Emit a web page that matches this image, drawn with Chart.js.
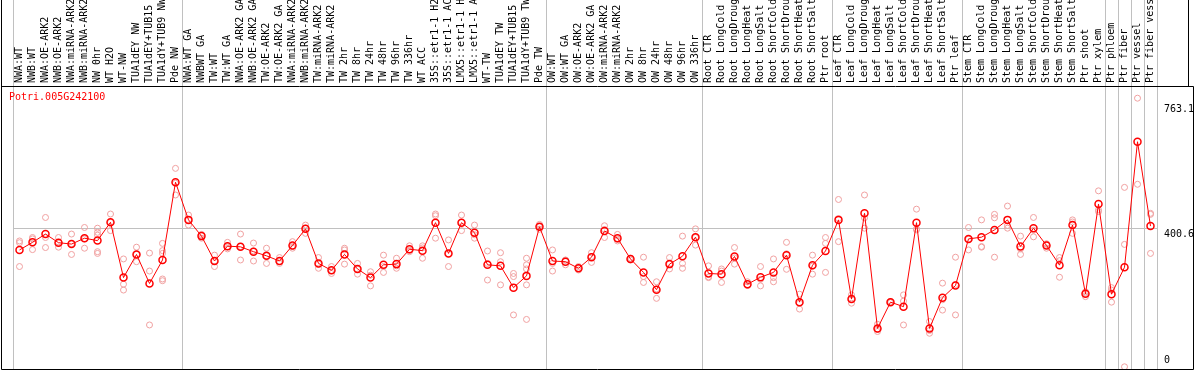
<!DOCTYPE html>
<html>
<head>
<meta charset="utf-8">
<script src="https://cdn.jsdelivr.net/npm/chart.js@4.4.1/dist/chart.umd.min.js"></script>
<style>
  html, body { margin: 0; padding: 0; background: #fff; }
  #wrap { width: 1194px; height: 370px; }
</style>
</head>
<body>
<div id="wrap"><canvas id="chart"></canvas></div>
<script>
const geneId = 'Potri.005G242100';

const categories = [
    'NWA:WT', 'NWB:WT', 'NWA:OE-ARK2', 'NWB:OE-ARK2', 'NWA:miRNA-ARK2', 'NWB:miRNA-ARK2',
    'NW 0hr', 'WT H2O', 'WT-NW', 'TUA1dEY NW', 'TUA1dEY+TUB15 NW', 'TUA1dY+TUB9 NW', 'Pde NW',
    'NWA:WT GA', 'NWBWT GA', 'TW:WT', 'TW:WT GA', 'NWA:OE-ARK2 GA', 'NWB:OE-ARK2 GA',
    'TW:OE-ARK2', 'TW:OE-ARK2 GA', 'NWA:miRNA-ARK2 GA', 'NWB:miRNA-ARK2 GA', 'TW:miRNA-ARK2',
    'TW:miRNA-ARK2 GA', 'TW 2hr', 'TW 8hr', 'TW 24hr', 'TW 48hr', 'TW 96hr', 'TW 336hr',
    'WT ACC', '35S::etr1-1 H2O', '35S::etr1-1 ACC', 'LMX5::etr1-1 H2O', 'LMX5::etr1-1 ACC',
    'WT-TW', 'TUA1dEY TW', 'TUA1dEY+TUB15 TW', 'TUA1dY+TUB9 TW', 'Pde TW',
    'OW:WT', 'OW:WT GA', 'OW:OE-ARK2', 'OW:OE-ARK2 GA', 'OW:miRNA-ARK2', 'OW:miRNA-ARK2 GA',
    'OW 2hr', 'OW 8hr', 'OW 24hr', 'OW 48hr', 'OW 96hr', 'OW 336hr',
    'Root CTR', 'Root LongCold', 'Root LongDrought', 'Root LongHeat', 'Root LongSalt',
    'Root ShortCold', 'Root ShortDrought', 'Root ShortHeat', 'Root ShortSalt', 'Ptr root',
    'Leaf CTR', 'Leaf LongCold', 'Leaf LongDrought', 'Leaf LongHeat', 'Leaf LongSalt',
    'Leaf ShortCold', 'Leaf ShortDrought', 'Leaf ShortHeat', 'Leaf ShortSalt', 'Ptr leaf',
    'Stem CTR', 'Stem LongCold', 'Stem LongDrought', 'Stem LongHeat', 'Stem LongSalt',
    'Stem ShortCold', 'Stem ShortDrought', 'Stem ShortHeat', 'Stem ShortSalt',
    'Ptr shoot', 'Ptr xylem', 'Ptr phloem', 'Ptr fiber', 'Ptr vessel', 'Ptr fiber vessel'
];

// mean expression per sample (red line)
const meanValues = [
    338, 360, 384, 359, 355, 372, 365, 418, 258, 325, 241, 309, 534,
    425, 378, 306, 349, 347, 333, 321, 306, 351, 399, 299, 279, 325, 283, 258, 295, 297, 340,
    336, 417, 328, 417, 388, 295, 292, 229, 263, 405,
    306, 304, 285, 317, 393, 372, 312, 273, 223, 297, 320, 375,
    270, 268, 319, 239, 259, 273, 323, 187, 294, 335,
    425, 196, 444, 111, 187, 174, 417, 111, 200, 235,
    370, 375, 396, 425, 348, 401, 351, 294, 410,
    211, 471, 210, 288, 651, 407
];

// single replicates per sample (pale circles)
const replicateValues = [
    [364, 359, 290], [374, 370, 339], [432, 374, 345], [374, 360, 346], [384, 325, 356],
    [403, 343, 370], [401, 389, 381, 333, 328], [442, 394, 418], [312, 239, 222],
    [346, 304, 325], [329, 277, 121], [357, 336, 328, 254, 249], [574, 497, 531],
    [439, 410, 425], [380, 372, 383], [323, 290, 306], [360, 341, 347], [384, 309, 348],
    [358, 306, 335], [343, 299, 321], [316, 299, 304], [362, 343, 348], [410, 386, 401],
    [316, 285, 297], [290, 270, 278], [343, 297, 338], [299, 268, 282], [275, 234, 265],
    [323, 273, 290], [314, 285, 292], [350, 333, 337], [350, 314, 344], [437, 372, 442],
    [367, 290, 327], [439, 394, 418], [410, 372, 382], [335, 251, 299], [330, 304, 237],
    [270, 261, 150], [314, 295, 283, 237, 137], [412, 405, 398],
    [338, 299, 277], [309, 295, 308], [290, 280, 285], [330, 302, 319], [408, 374, 397],
    [383, 364, 369], [314, 309, 313], [317, 261, 244], [246, 198, 225], [316, 297, 283],
    [378, 299, 285], [399, 352, 374],
    [292, 258, 260], [283, 244, 277], [345, 297, 315], [246, 235, 236], [290, 234, 253],
    [312, 258, 246], [360, 282, 327], [210, 167, 184], [323, 268, 291], [374, 357, 273],
    [484, 362, 429], [208, 184, 196], [497, 431, 401], [123, 102, 108], [189, 186, 186],
    [208, 190, 121], [456, 399, 396], [131, 97, 105], [242, 164, 194], [317, 150, 238],
    [403, 338, 369], [425, 346, 348], [441, 431, 317], [465, 401, 409], [378, 325, 341],
    [432, 376, 395], [354, 343, 356], [316, 259, 307], [425, 386, 419],
    [217, 203, 213], [509, 454, 449], [229, 222, 187], [519, 354, 0], [777, 528], [444, 328, 441]
];

const yTickValues = [0, 400.6, 763.1];
const yGridValue = 400.6;
// samples that open a new group (a grey separator is drawn on their left)
const groupStarts = [0, 13, 41, 53, 63, 73, 84, 85, 86, 87];

const replicatePoints = [];
replicateValues.forEach((reps, i) => {
    reps.forEach(v => replicatePoints.push({ x: categories[i], y: v }));
});

const monoFont = { family: 'DejaVu Sans Mono', size: 10 };
const sepColor = '#c0c0c0';
const clear = 'rgba(0,0,0,0)';

// box around the plot and the gene id in the top left corner
const framePlugin = {
    id: 'frame',
    afterDraw(chart) {
        const ctx = chart.ctx;
        const area = chart.chartArea;
        ctx.save();
        ctx.strokeStyle = '#000';
        ctx.lineWidth = 1;
        ctx.beginPath();
        ctx.moveTo(1.5, 0);
        ctx.lineTo(1.5, area.bottom + 0.5);
        ctx.lineTo(chart.width - 0.5, area.bottom + 0.5);
        ctx.lineTo(chart.width - 0.5, area.top + 0.5);
        ctx.lineTo(1.5, area.top + 0.5);
        ctx.moveTo(chart.width - 5.5, 0);
        ctx.lineTo(chart.width - 5.5, area.top);
        ctx.stroke();

        ctx.fillStyle = '#ff0000';
        ctx.font = '10px "DejaVu Sans Mono"';
        ctx.textBaseline = 'middle';
        ctx.fillText(geneId, area.left - 4, area.top + 11);
        ctx.restore();
    }
};

new Chart(document.getElementById('chart'), {
    type: 'line',
    data: {
        labels: categories,
        datasets: [{
            label: 'mean',
            data: meanValues,
            borderColor: '#ff0000',
            borderWidth: 1,
            pointRadius: 3.5,
            pointBorderWidth: 1.5,
            pointBorderColor: '#ff0000',
            pointBackgroundColor: clear,
            tension: 0
        }, {
            label: 'replicates',
            data: replicatePoints,
            showLine: false,
            pointRadius: 3,
            pointBorderWidth: 1,
            pointBorderColor: '#f0a0a0',
            pointBackgroundColor: clear
        }]
    },
    options: {
        responsive: true,
        maintainAspectRatio: false,
        animation: false,
        layout: { autoPadding: false, padding: { left: 13, right: 0, top: 0, bottom: 1 } },
        plugins: {
            legend: { display: false },
            tooltip: { enabled: false }
        },
        scales: {
            x: {
                type: 'category',
                position: 'top',
                offset: true,
                grid: {
                    offset: true,
                    drawTicks: true,
                    tickLength: 86,
                    lineWidth: 1,
                    color: c => (c.index === undefined || groupStarts.includes(c.index)) ? sepColor : clear,
                    tickColor: c => (c.index === undefined || groupStarts.includes(c.index)) ? sepColor : clear
                },
                border: { display: false },
                ticks: {
                    autoSkip: false,
                    minRotation: 90,
                    maxRotation: 90,
                    padding: -83,
                    labelOffset: 12,
                    color: '#000',
                    font: monoFont
                },
                afterFit(scale) {
                    scale.height = 86;
                    scale.paddingLeft = 0;
                    scale.paddingRight = 0;
                }
            },
            y: {
                position: 'right',
                min: -6.4,
                max: 812.3,
                afterBuildTicks(scale) {
                    scale.ticks = yTickValues.map(v => ({ value: v }));
                },
                grid: {
                    drawTicks: false,
                    color: c => (c.tick && c.tick.value === yGridValue) ? sepColor : clear
                },
                border: { display: false },
                ticks: {
                    padding: 7,
                    color: '#000',
                    font: monoFont,
                    // labels sit just under their value, the bottom one just above
                    callback: v => (v === 0 ? [String(v), ''] : ['', String(v)])
                },
                afterFit(scale) {
                    scale.width = 37;
                    scale.paddingTop = 0;
                    scale.paddingBottom = 0;
                }
            }
        }
    },
    plugins: [framePlugin]
});
</script>
</body>
</html>
